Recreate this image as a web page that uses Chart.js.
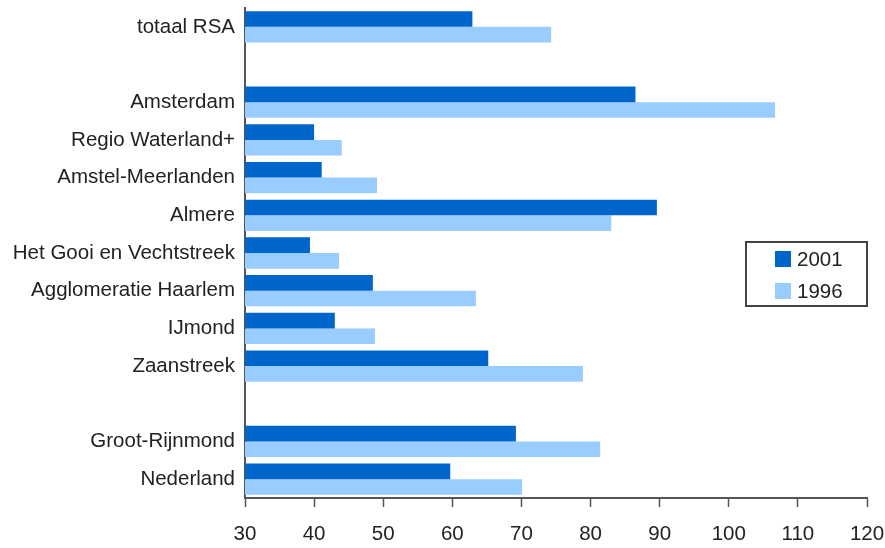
<!DOCTYPE html>
<html>
<head>
<meta charset="utf-8">
<script src="https://cdn.jsdelivr.net/npm/chart.js@4/dist/chart.umd.min.js"></script>
<style>
html,body{margin:0;padding:0;background:#fff;}
#wrap{width:885px;height:548px;position:relative;}
</style>
</head>
<body>
<div id="wrap"><canvas id="c" width="885" height="548"></canvas></div>
<script>
const categories = ["totaal RSA", "", "Amsterdam", "Regio Waterland+", "Amstel-Meerlanden", "Almere", "Het Gooi en Vechtstreek", "Agglomeratie Haarlem", "IJmond", "Zaanstreek", "", "Groot-Rijnmond", "Nederland"];
const values2001 = [62.9, null, 86.5, 40.0, 41.1, 89.6, 39.4, 48.5, 43.0, 65.2, null, 69.2, 59.7];
const values1996 = [74.3, null, 106.7, 44.0, 49.1, 83.0, 43.6, 63.4, 48.8, 78.9, null, 81.4, 70.1];
const seriesNames = ["2001", "1996"];
const xTicks = [30, 40, 50, 60, 70, 80, 90, 100, 110, 120];

const FONT = "'Liberation Sans', Arial, sans-serif";
const TXT = '#222222';
const AX = '#555555';

const boxLegend = {
  id: 'boxLegend',
  afterDraw(chart) {
    const ctx = chart.ctx;
    ctx.save();
    ctx.strokeStyle = '#444';
    ctx.lineWidth = 2;
    ctx.strokeRect(746, 242, 121, 64);
    chart.data.datasets.forEach((ds, i) => {
      const y = 251 + i * 32;
      ctx.fillStyle = ds.backgroundColor;
      ctx.fillRect(775, y, 16, 16);
      ctx.fillStyle = TXT;
      ctx.font = "20.5px " + FONT;
      ctx.textBaseline = 'middle';
      ctx.textAlign = 'left';
      ctx.fillText(ds.label, 797, y + 9);
    });
    ctx.restore();
  }
};

new Chart(document.getElementById('c'), {
  type: 'bar',
  data: {
    labels: categories,
    datasets: [
      { label: seriesNames[0], data: values2001, backgroundColor: '#0066CC' },
      { label: seriesNames[1], data: values1996, backgroundColor: '#99CCFF' }
    ]
  },
  options: {
    indexAxis: 'y',
    responsive: false,
    animation: false,
    events: [],
    layout: { padding: { top: 8, right: 18, left: 0, bottom: 0 } },
    datasets: { bar: { categoryPercentage: 0.83, barPercentage: 1.0 } },
    plugins: { legend: { display: false }, tooltip: { enabled: false } },
    scales: {
      x: {
        type: 'linear',
        min: 30, max: 120,
        afterBuildTicks(scale) { scale.ticks = xTicks.map(v => ({ value: v })); },
        afterFit(scale) { scale.height = 50; scale.paddingLeft = 0; scale.paddingRight = 0; },
        grid: { drawOnChartArea: false, drawTicks: true, tickLength: 9, tickColor: AX, tickWidth: 1.5 },
        border: { display: true, color: AX, width: 2 },
        ticks: { color: TXT, font: { family: FONT, size: 20.5 }, padding: 15, maxRotation: 0 }
      },
      y: {
        afterFit(scale) { scale.width = 245; scale.paddingTop = 0; scale.paddingBottom = 0; },
        grid: { display: false, drawTicks: false },
        border: { display: true, color: AX, width: 2 },
        ticks: { color: TXT, font: { family: FONT, size: 20.5 }, padding: 10, autoSkip: false }
      }
    }
  },
  plugins: [boxLegend]
});
</script>
</body>
</html>
